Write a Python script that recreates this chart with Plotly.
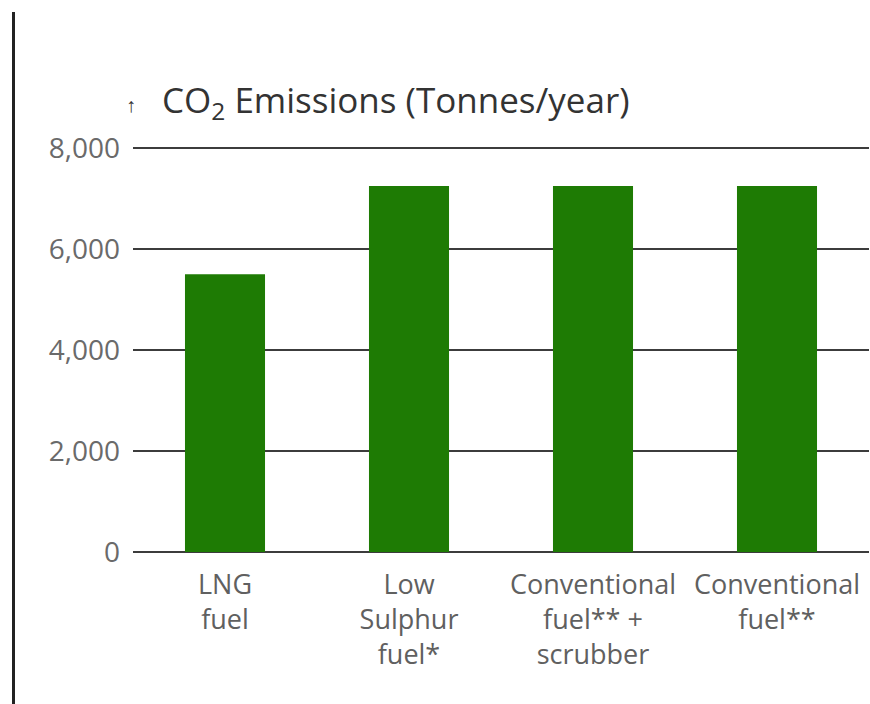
import plotly.graph_objects as go

categories = ["LNG<br>fuel", "Low<br>Sulphur<br>fuel*", "Conventional<br>fuel** +<br>scrubber", "Conventional<br>fuel**"]
co2_emissions = [5500, 7250, 7250, 7250]
y_ticks = [0, 2000, 4000, 6000, 8000]
title_text = "CO<sub>2</sub> Emissions (Tonnes/year)"

W, H = 870, 704
ml, mr, mt, mb = 133, 1, 147, 152
pw = W - ml - mr
ph = H - mt - mb
ymax = 8020

fig = go.Figure()
fig.add_trace(go.Bar(
    x=categories, y=co2_emissions,
    marker=dict(color="#1e7b04", line=dict(width=0)),
    width=0.435,
))

fig.update_layout(
    width=W, height=H,
    margin=dict(l=ml, r=mr, t=mt, b=mb),
    paper_bgcolor="white", plot_bgcolor="white",
    showlegend=False,
    font=dict(family="Open Sans", color="#5a5a5a"),
    xaxis=dict(
        type="category", showgrid=False, showline=False, zeroline=False,
        ticks="", tickfont=dict(size=27, color="#606060"),
        ticklabelstandoff=14,
    ),
    yaxis=dict(
        range=[0, ymax], tickvals=y_ticks, tickformat=",",
        showgrid=True, gridcolor="#3c3c3c", gridwidth=2,
        zeroline=True, zerolinecolor="#3c3c3c", zerolinewidth=2,
        showline=False, ticks="",
        tickfont=dict(size=28, color="#6a6a6a"),
        ticklabelstandoff=12,
    ),
)

def py(ypix):
    return (H - mb - ypix) / ph

# left vertical rule
fig.add_shape(type="line", xref="paper", yref="paper",
              x0=(13.5 - ml) / pw, x1=(13.5 - ml) / pw,
              y0=py(12), y1=py(704),
              line=dict(color="#222222", width=3))

# title
fig.add_annotation(xref="paper", yref="paper",
                   x=(131 - ml) / pw, y=py(104),
                   text="↑", showarrow=False, xanchor="center", yanchor="middle",
                   font=dict(size=20, color="#333333"))
fig.add_annotation(xref="paper", yref="paper",
                   x=(160 - ml) / pw, y=py(102),
                   text=title_text, showarrow=False, xanchor="left", yanchor="middle",
                   font=dict(size=35, color="#333333"))

fig.write_html("out.html")
